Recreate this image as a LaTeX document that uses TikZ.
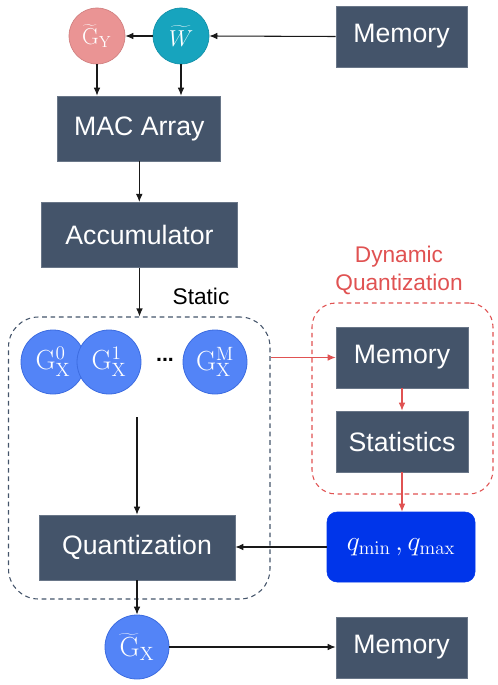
\documentclass[tikz,border=0pt]{standalone}
\usepackage[no-math]{fontspec}
\setmainfont{Liberation Sans}
\usetikzlibrary{arrows.meta}
\definecolor{boxc}{HTML}{44546A}
\definecolor{pinkc}{HTML}{EA9494}
\definecolor{pinkd}{HTML}{D08080}
\definecolor{tealc}{HTML}{17A4BE}
\definecolor{teald}{HTML}{1390A8}
\definecolor{bluec}{HTML}{5384F7}
\definecolor{blued}{HTML}{3C6CE0}
\definecolor{qc}{HTML}{0035EA}
\definecolor{redc}{HTML}{E05252}
\tikzset{
  box/.style={fill=boxc, draw=boxc!80!white, line width=0.5pt, text=white, inner sep=0pt,
    minimum width=#1, minimum height=45.75pt, font=\fontsize{20}{24}\selectfont},
  box/.default=98.25pt,
  gcirc/.style={circle, fill=bluec, draw=blued, line width=0.6pt, text=white, inner sep=0pt,
    minimum size=48pt, font=\fontsize{21}{24}\selectfont},
  tcirc/.style={circle, line width=0.5pt, text=white, inner sep=0pt,
    minimum size=42pt, font=\fontsize{18}{20}\selectfont},
  arr/.style={-{Latex[length=6pt,width=5pt]}, line width=0.8pt, draw=black!90},
  rarr/.style={-{Latex[length=6pt,width=5pt]}, line width=0.8pt, draw=redc},
  lbl/.style={font=\fontsize{17}{21}\selectfont, align=center, inner sep=0pt}
}
\begin{document}
\begin{tikzpicture}[x=0.75pt,y=-0.75pt]
\useasboundingbox (0,0) rectangle (498,685);
% boxes
\node[box] (mem1) at (401.5,36.5) {Memory};
\node[box=122.25pt, minimum height=48.75pt] (mac) at (139.3,128.5) {MAC Array};
\node[box=147pt, minimum height=48.75pt] (acc) at (139.5,234.8) {Accumulator};
% top circles
\node[tcirc, fill=pinkc, draw=pinkd] (gy) at (97,36) {$\widetilde{\mathrm{G}}_{\mathrm{Y}}$};
\node[tcirc, fill=tealc, draw=teald] (w) at (181,36) {$\widetilde{W}$};
% static box
\node[draw=boxc, dashed, dash pattern=on 3.5pt off 2.8pt, line width=0.8pt, rounded corners=22.5pt,
  minimum width=196.1pt, minimum height=211.5pt, inner sep=0pt] (sbox) at (139.25,458) {};
\node[lbl] (static) at (201,296) {Static};
% dynamic box
\node[draw=redc, dashed, dash pattern=on 3.5pt off 2.8pt, line width=0.8pt, rounded corners=18pt,
  minimum width=135.75pt, minimum height=143.25pt, inner sep=0pt] (dbox) at (402.5,398.5) {};
\node[lbl, text=redc] (dyn) at (399,270.5) {Dynamic\\Quantization};
% G_X circles
\node[gcirc] (gx0) at (53,362) {$\mathrm{G}_{\mathrm{X}}^{0}$};
\node[gcirc] (gx1) at (109,362) {$\mathrm{G}_{\mathrm{X}}^{1}$};
\node[font=\fontsize{16}{18}\selectfont, inner sep=0pt] (dots) at (165,360) {\textbf{...}};
\node[gcirc] (gxm) at (215,362) {$\mathrm{G}_{\mathrm{X}}^{\mathrm{M}}$};
% dynamic
\node[box=99pt] (mem2) at (402,357.5) {Memory};
\node[box=99pt] (stats) at (402,441.5) {Statistics};
\node[fill=qc, draw=qc, rounded corners=7.5pt, minimum width=111pt, minimum height=52.5pt,
  inner sep=0pt, text=white, font=\fontsize{22}{24}\selectfont] (q) at (401,547) {$q_{\min}\,{,}\,q_{\max}$};
% quantization
\node[box=147pt, minimum height=48.75pt] (quant) at (137,547.5) {Quantization};
\node[gcirc] (gxt) at (137,647) {$\widetilde{\mathrm{G}}_{\mathrm{X}}$};
\node[box] (mem3) at (401.5,647.5) {Memory};
\coordinate (qstart) at (137,417);
% connectors
\draw[arr] (mem1.west) -- (w.east);
\draw[arr] (w.west) -- (gy.east);
\draw[arr] (gy.south) -- (gy.south |- mac.north);
\draw[arr] (w.south) -- (w.south |- mac.north);
\draw[arr] (mac.south) -- (mac.south |- acc.north);
\draw[arr] (acc.south) -- (acc.south |- sbox.north);
\draw[rarr] (sbox.east |- mem2.west) -- (mem2.west);
\draw[rarr] (mem2.south) -- (stats.north);
\draw[rarr] (stats.south) -- (stats.south |- q.north);
\draw[arr] (q.west) -- (q.west -| quant.east);
\draw[arr] (qstart) -- (qstart |- quant.north);
\draw[arr] (quant.south) -- (gxt.north);
\draw[arr] (gxt.east) -- (gxt.east -| mem3.west);
\end{tikzpicture}
\end{document}
